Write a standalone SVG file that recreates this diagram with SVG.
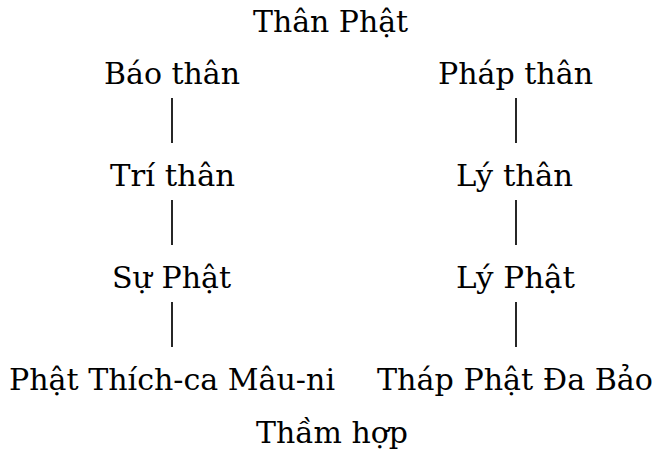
<svg xmlns="http://www.w3.org/2000/svg" width="657" height="456" viewBox="0 0 657 456">
<style>
.t{font-family:"DejaVu Serif","Liberation Serif",serif;font-size:30px;fill:#000;}
.c{stroke:#000;stroke-width:1.7;fill:none;}
</style>
<rect width="657" height="456" fill="#fff"/>
<g id="connectors">
<line class="c" x1="172" y1="98" x2="172" y2="143"/>
<line class="c" x1="172" y1="200" x2="172" y2="245"/>
<line class="c" x1="172" y1="302" x2="172" y2="347"/>
<line class="c" x1="516" y1="98" x2="516" y2="143"/>
<line class="c" x1="516" y1="200" x2="516" y2="245"/>
<line class="c" x1="516" y1="302" x2="516" y2="347"/>
</g>
<g id="than-phat"><text class="t" x="253" y="32" textLength="155" lengthAdjust="spacingAndGlyphs">Thân Phật</text></g>
<g id="bao-than"><text class="t" x="104" y="84" textLength="136" lengthAdjust="spacingAndGlyphs">Báo thân</text></g>
<g id="phap-than"><text class="t" x="438" y="84" textLength="155" lengthAdjust="spacingAndGlyphs">Pháp thân</text></g>
<g id="tri-than"><text class="t" x="110" y="186" textLength="125" lengthAdjust="spacingAndGlyphs">Trí thân</text></g>
<g id="ly-than"><text class="t" x="456" y="186" textLength="117" lengthAdjust="spacingAndGlyphs">Lý thân</text></g>
<g id="su-phat"><text class="t" x="112" y="288" textLength="119" lengthAdjust="spacingAndGlyphs">Sự Phật</text></g>
<g id="ly-phat"><text class="t" x="456" y="288" textLength="119" lengthAdjust="spacingAndGlyphs">Lý Phật</text></g>
<g id="thich-ca"><text class="t" x="9" y="390" textLength="326" lengthAdjust="spacingAndGlyphs">Phật Thích-ca Mâu-ni</text></g>
<g id="da-bao"><text class="t" x="377" y="390" textLength="276" lengthAdjust="spacingAndGlyphs">Tháp Phật Đa Bảo</text></g>
<g id="tham-hop"><text class="t" x="256" y="443" textLength="152" lengthAdjust="spacingAndGlyphs">Thầm hợp</text></g>
</svg>
